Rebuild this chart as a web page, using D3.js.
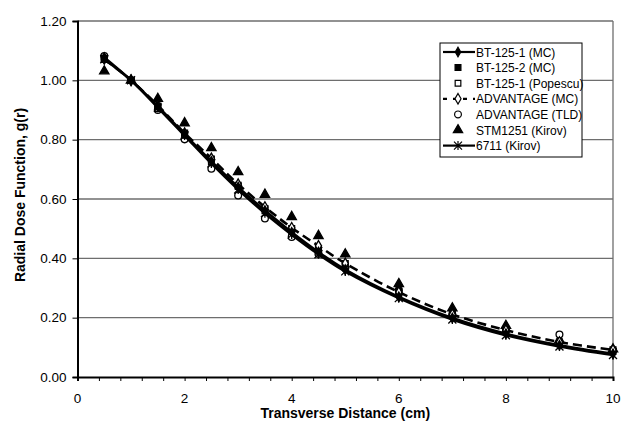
<!DOCTYPE html>
<html>
<head>
<meta charset="utf-8">
<script src="https://cdn.jsdelivr.net/npm/d3@7"></script>
<style>
  body { margin: 0; background: #fff; }
  svg { font-family: Arial, "Liberation Sans", sans-serif; }
</style>
</head>
<body>
<div id="chart"></div>
<script>
const distances = [0.5, 1, 1.5, 2, 2.5, 3, 3.5, 4, 4.5, 5, 6, 7, 8, 9, 10];

const bt1251MC      = [1.077, 1.000, 0.912, 0.818, 0.727, 0.640, 0.561, 0.488, 0.421, 0.362, 0.270, 0.199, 0.146, 0.107, 0.078];
const bt1252MC      = [1.074, 1.000, 0.913, 0.822, 0.735, 0.646, 0.568, 0.500, 0.433, 0.382, 0.290, 0.215, 0.160, 0.118, 0.092];
const bt1251Popescu = [1.070, 1.000, 0.905, 0.815, 0.725, 0.642, 0.560, 0.490, 0.425, 0.371, 0.282, 0.206, 0.152, 0.112, 0.086];
const advantageMC   = [1.072, 1.000, 0.915, 0.822, 0.737, 0.650, 0.573, 0.503, 0.442, 0.383, 0.286, 0.211, 0.158, 0.118, 0.091];
const advantageTLD  = [1.082, 1.000, 0.900, 0.801, 0.702, 0.612, 0.534, 0.472, 0.415, 0.366, 0.292, 0.210, 0.162, 0.143, 0.090];
const stm1251Kirov  = [1.031, 1.000, 0.938, 0.856, 0.772, 0.691, 0.615, 0.540, 0.476, 0.414, 0.314, 0.232, 0.173, 0.125, 0.094];
const kirov6711     = [1.071, 1.000, 0.908, 0.814, 0.720, 0.632, 0.552, 0.480, 0.414, 0.356, 0.266, 0.194, 0.141, 0.103, 0.074];

const seriesNames = ["BT-125-1 (MC)", "BT-125-2 (MC)", "BT-125-1 (Popescu)", "ADVANTAGE (MC)",
  "ADVANTAGE (TLD)", "STM1251 (Kirov)", "6711 (Kirov)"];

const xTicks = [0, 2, 4, 6, 8, 10];
const yTicks = [0, 0.2, 0.4, 0.6, 0.8, 1.0, 1.2];

const width = 623, height = 430;
const margin = {top: 21, right: 10, bottom: 53, left: 77.5};

const svg = d3.select("#chart").append("svg")
  .attr("width", width)
  .attr("height", height);

const x = d3.scaleLinear().domain([0, 10]).range([margin.left, width - margin.right]);
const y = d3.scaleLinear().domain([0, 1.2]).range([height - margin.bottom, margin.top]);

// gridlines
svg.append("g")
  .selectAll("line")
  .data(yTicks.slice(1))
  .enter()
  .append("line")
  .attr("x1", x(0)).attr("x2", x(10))
  .attr("y1", d => y(d)).attr("y2", d => y(d))
  .attr("stroke", "#6e6e6e")
  .attr("stroke-width", 1.3);

// right border
svg.append("line")
  .attr("x1", x(10)).attr("x2", x(10))
  .attr("y1", y(0)).attr("y2", y(1.2))
  .attr("stroke", "#6e6e6e")
  .attr("stroke-width", 1.3);

// axes
const xAxis = svg.append("g")
  .attr("transform", "translate(0," + y(0) + ")")
  .call(d3.axisBottom(x).tickValues(d3.range(0, 10.01, 0.4)).tickSize(4).tickFormat(""));
xAxis.select(".domain").attr("stroke-width", 2);
xAxis.selectAll(".tick line").attr("stroke-width", 1);

svg.append("g")
  .selectAll("text")
  .data(xTicks)
  .enter()
  .append("text")
  .attr("x", d => x(d))
  .attr("y", y(0) + 26)
  .attr("text-anchor", "middle")
  .attr("font-size", 13.5)
  .text(d => d);

const yAxis = svg.append("g")
  .attr("transform", "translate(" + x(0) + ",0)")
  .call(d3.axisLeft(y).tickValues(yTicks).tickSize(5).tickPadding(6).tickFormat(d3.format(".2f")));
yAxis.select(".domain").attr("stroke-width", 2);
yAxis.selectAll(".tick text").attr("font-size", 13.5).attr("font-family", "Arial, 'Liberation Sans', sans-serif");

svg.append("text")
  .attr("x", (x(0) + x(10)) / 2)
  .attr("y", 418)
  .attr("text-anchor", "middle")
  .attr("font-size", 14)
  .attr("font-weight", "bold")
  .text("Transverse Distance (cm)");

svg.append("text")
  .attr("transform", "translate(25," + ((y(0) + y(1.2)) / 2 - 4) + ") rotate(-90)")
  .attr("text-anchor", "middle")
  .attr("font-size", 14)
  .attr("font-weight", "bold")
  .text("Radial Dose Function, g(r)");

// markers
const asterisk = "M-4,-4L4,4M-4,4L4,-4M0,-4.5L0,4.5";
const markers = [
  {path: d3.symbol(d3.symbolDiamond, 26)(), fill: "#000", stroke: "#000"},
  {path: d3.symbol(d3.symbolSquare, 34)(), fill: "#000", stroke: "#000"},
  {path: d3.symbol(d3.symbolSquare, 32)(), fill: "#fff", stroke: "#000"},
  {path: d3.symbol(d3.symbolDiamond, 32)(), fill: "#fff", stroke: "#000"},
  {path: d3.symbol(d3.symbolCircle, 36)(), fill: "#fff", stroke: "#000"},
  {path: d3.symbol(d3.symbolTriangle, 38)(), fill: "#000", stroke: "#000"},
  {path: asterisk, fill: "none", stroke: "#000"}
];
const lineStyles = [
  {dash: null}, null, null, {dash: "9,5"}, null, null, {dash: null}
];
const allSeries = [bt1251MC, bt1252MC, bt1251Popescu, advantageMC, advantageTLD, stm1251Kirov, kirov6711];

const line = d3.line()
  .x(d => x(d[0]))
  .y(d => y(d[1]))
  .curve(d3.curveCatmullRom);

const drawOrder = [5, 4, 2, 1, 3, 0, 6];
drawOrder.forEach(function (i) {
  const pts = distances.map((d, j) => [d, allSeries[i][j]]);
  const g = svg.append("g").attr("class", "series");
  if (lineStyles[i]) {
    g.append("path")
      .attr("d", line(pts))
      .attr("fill", "none")
      .attr("stroke", "#000")
      .attr("stroke-width", 2.6)
      .attr("stroke-dasharray", lineStyles[i].dash);
  }
  g.selectAll("path.mk")
    .data(pts)
    .enter()
    .append("path")
    .attr("class", "mk")
    .attr("d", markers[i].path)
    .attr("transform", d => "translate(" + x(d[0]) + "," + y(d[1]) + ")")
    .attr("fill", markers[i].fill)
    .attr("stroke", markers[i].stroke)
    .attr("stroke-width", 1.3);
});

// legend
const legend = svg.append("g").attr("transform", "translate(440,43)");
legend.append("rect")
  .attr("width", 142).attr("height", 114)
  .attr("fill", "#fff")
  .attr("stroke", "#000")
  .attr("stroke-width", 1);

seriesNames.forEach(function (name, i) {
  const cy = 9 + i * 15.6;
  const row = legend.append("g").attr("transform", "translate(0," + cy + ")");
  if (lineStyles[i]) {
    row.append("line")
      .attr("x1", 3).attr("x2", 35)
      .attr("stroke", "#000")
      .attr("stroke-width", 2.2)
      .attr("stroke-dasharray", lineStyles[i].dash ? "4,6" : null);
  }
  row.append("path")
    .attr("d", markers[i].path)
    .attr("transform", "translate(18,0)")
    .attr("fill", markers[i].fill)
    .attr("stroke", markers[i].stroke)
    .attr("stroke-width", 1.2);
  row.append("text")
    .attr("x", 36)
    .attr("y", 4.5)
    .attr("font-size", 12)
    .text(name);
});
</script>
</body>
</html>
